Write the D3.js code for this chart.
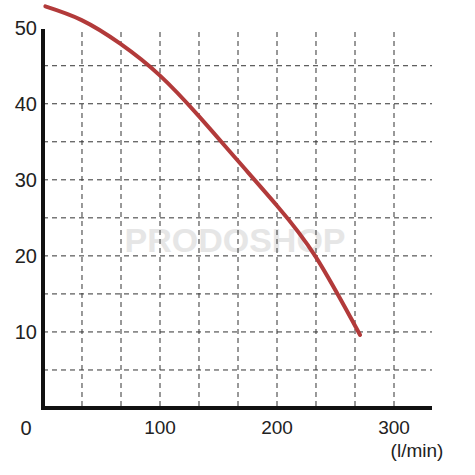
<!DOCTYPE html>
<html><head><meta charset="utf-8">
<script src="https://cdn.jsdelivr.net/npm/d3@7"></script>
<style>body{margin:0;background:#fff}</style></head>
<body><svg id="c" width="475" height="475"></svg>
<script>
const flow = [2, 33, 66, 100, 133, 166, 200, 233, 271];
const head = [52.8, 51, 47.9, 43.7, 38.4, 32.6, 26.6, 19.9, 9.6];
const xTicks = [100, 200, 300];
const yTicks = [10, 20, 30, 40, 50];
const xGrid = [33.33, 66.67, 100, 133.33, 166.67, 200, 233.33, 266.67, 300];
const yGrid = [5, 10, 15, 20, 25, 30, 35, 40, 45];

const svg = d3.select("#c");
const x = d3.scaleLinear().domain([0, 300]).range([43, 394]);
const y = d3.scaleLinear().domain([0, 50]).range([408, 27.7]);
const font = "Liberation Sans, Arial, sans-serif";

svg.append("text").attr("x", 235).attr("y", 252).attr("text-anchor", "middle")
  .attr("font-family", font).attr("font-size", 34).attr("font-weight", "bold")
  .attr("fill", "#e6e6e6").text("PRODOSHOP");

const g = svg.append("g").attr("stroke", "#333").attr("stroke-dasharray", "5,4").attr("stroke-width", 1);
g.selectAll(".v").data(xGrid).join("line").attr("x1", d => x(d)).attr("x2", d => x(d)).attr("y1", 32).attr("y2", 407);
g.selectAll(".h").data(yGrid).join("line").attr("y1", d => y(d)).attr("y2", d => y(d)).attr("x1", 43).attr("x2", 432);

svg.append("line").attr("x1", 43).attr("x2", 43).attr("y1", 29).attr("y2", 409).attr("stroke", "#111").attr("stroke-width", 4);
svg.append("line").attr("x1", 41).attr("x2", 432).attr("y1", 408).attr("y2", 408).attr("stroke", "#111").attr("stroke-width", 4);

svg.selectAll(".yl").data(yTicks).join("text").attr("x", 37).attr("y", d => y(d) + 7)
  .attr("text-anchor", "end").attr("font-family", font).attr("font-size", 20).attr("fill", "#222").text(d => d);
svg.selectAll(".xl").data(xTicks).join("text").attr("x", d => x(d)).attr("y", 434)
  .attr("text-anchor", "middle").attr("font-family", font).attr("font-size", 19).attr("fill", "#222").text(d => d);
svg.append("text").attr("x", 26).attr("y", 435).attr("text-anchor", "middle").attr("font-family", font).attr("font-size", 20).attr("fill", "#222").text("0");
svg.append("text").attr("x", 417).attr("y", 457).attr("text-anchor", "middle").attr("font-family", font).attr("font-size", 19).attr("fill", "#222").text("(l/min)");

const pts = flow.map((f, i) => [f, head[i]]);
svg.append("path").datum(pts)
  .attr("d", d3.line().x(d => x(d[0])).y(d => y(d[1])).curve(d3.curveNatural))
  .attr("fill", "none").attr("stroke", "#b23a3a").attr("stroke-width", 4).attr("stroke-linecap", "round");
</script></body></html>
